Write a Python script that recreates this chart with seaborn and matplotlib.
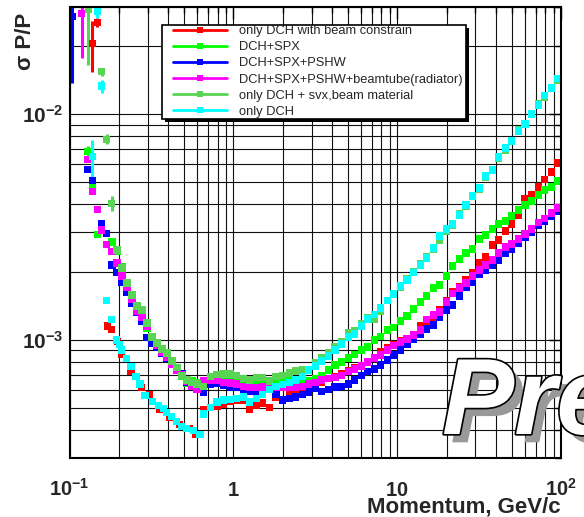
import numpy as np
import pandas as pd
import seaborn as sns
import matplotlib
matplotlib.use("Agg")
import matplotlib.pyplot as plt
from matplotlib.ticker import FixedLocator, FixedFormatter, LogLocator, NullFormatter
from matplotlib.lines import Line2D
from matplotlib.patches import Rectangle
import matplotlib.patheffects as pe

sns.set_theme(style="white")
plt.rcParams['font.family'] = ['Liberation Sans', 'DejaVu Sans']
plt.rcParams['mathtext.fontset'] = 'custom'
plt.rcParams['mathtext.rm'] = 'Liberation Sans'
plt.rcParams['mathtext.bf'] = 'Liberation Sans:bold'
plt.rcParams['mathtext.it'] = 'Liberation Sans:italic'

# ---------------------------------------------------------------- data
labels = ["only DCH with beam constrain", "DCH+SPX", "DCH+SPX+PSHW",
          "DCH+SPX+PSHW+beamtube(radiator)", "only DCH + svx,beam material",
          "only DCH"]
colors = ["#ff0000", "#00ff00", "#0000ff", "#ff00ff", "#59d454", "#00ffff"]

x_tick_values = [0.1, 1, 10, 100]
x_tick_labels = [r"$\mathbf{10^{-1}}$", r"$\mathbf{1}$", r"$\mathbf{10}$", r"$\mathbf{10^{2}}$"]
y_tick_values = [1e-3, 1e-2]
y_tick_labels = [r"$\mathbf{10^{-3}}$", r"$\mathbf{10^{-2}}$"]

# common momentum points above 0.65 GeV/c
p_grid = [0.661, 0.724, 0.794, 0.871, 0.955, 1.047, 1.148, 1.259, 1.380, 1.514,
          1.660, 1.820, 1.995, 2.188, 2.399, 2.630, 2.884, 3.162, 3.467, 3.802,
          4.169, 4.571, 5.012, 5.495, 6.026, 6.607, 7.244, 7.943, 8.710, 9.550,
          10.47, 11.48, 12.59, 13.80, 15.14, 16.60, 18.20, 19.95, 21.88, 23.99,
          26.30, 28.84, 31.62, 34.67, 38.02, 41.69, 45.71, 50.12, 54.95, 60.26,
          66.07, 72.44, 79.43, 87.10, 95.50]

# only DCH with beam constrain
red_p_low = [0.1377, 0.148, 0.1699, 0.1807, 0.1955, 0.2081, 0.2370, 0.2755, 0.3094,
             0.356, 0.4095, 0.4712, 0.5421, 0.591]
red_s_low = [0.0206, 0.0255, 0.001153, 0.001118, 0.000983, 0.000867, 0.000724, 0.000617,
             0.000573, 0.000490, 0.000455, 0.000421, 0.000406, 0.000383]
red_err_low = [0.0052, 0.0012, 0, 0, 0, 0, 0, 0, 0, 0, 0, 0, 0, 0]
red_s = [0.000490, 0.000500, 0.000510, 0.000518, 0.000533, 0.000542, 0.000537, 0.000490, 0.000511, 0.000526,
         0.000500, 0.000559, 0.000542, 0.000576, 0.000594, 0.000607, 0.000619, 0.000632, 0.000651, 0.000672,
         0.000686, 0.000707, 0.000729, 0.000752, 0.000767, 0.000799, 0.000832, 0.000885, 0.000922, 0.000950,
         0.000990, 0.001000, 0.001045, 0.001153, 0.001165, 0.001252, 0.001358, 0.001503, 0.001632, 0.001717,
         0.001844, 0.001980, 0.002194, 0.002331, 0.002636, 0.002773, 0.003041, 0.003266, 0.003579, 0.004215,
         0.004389, 0.004763, 0.005165, 0.005550, 0.006083]

# DCH+SPX
green_p_low = [0.129, 0.1377, 0.1476, 0.1815, 0.1948, 0.2089, 0.2241, 0.2404, 0.2579, 0.2767,
               0.2969, 0.3184, 0.3416, 0.3665, 0.3932, 0.4218, 0.4525, 0.4855, 0.5209, 0.5588, 0.5995]
green_s_low = [0.00683, 0.00487, 0.00292, 0.002717, 0.002455, 0.002106, 0.001632, 0.001503, 0.001358,
               0.001252, 0.001130, 0.001021, 0.000950, 0.000903, 0.000849, 0.000799, 0.000744,
               0.000686, 0.000645, 0.000658, 0.000645]
green_err_low = [0.0004] + [0] * 20
green_s = [0.000632, 0.000665, 0.000672, 0.000686, 0.000686, 0.000665, 0.000651, 0.000645, 0.000638, 0.000638,
           0.000645, 0.000651, 0.000651, 0.000658, 0.000658, 0.000658, 0.000658, 0.000672, 0.000693, 0.000736,
           0.000775, 0.000799, 0.000832, 0.000861, 0.000903, 0.000931, 0.001000, 0.001034, 0.001107, 0.001141,
           0.001214, 0.001277, 0.001372, 0.001473, 0.001566, 0.001700, 0.001752, 0.001921, 0.002127, 0.002284,
           0.002428, 0.002531, 0.002802, 0.002919, 0.003103, 0.003266, 0.003366, 0.003542, 0.003767, 0.003963,
           0.004128, 0.004389, 0.004620, 0.004763, 0.005063]

# DCH+SPX+PSHW
blue_p_low = [0.1038, 0.129, 0.1377, 0.157, 0.1684, 0.1815, 0.1948, 0.2089, 0.2241, 0.2404,
              0.2579, 0.2767, 0.2969, 0.3184, 0.3416, 0.3665, 0.3932, 0.4218, 0.4525, 0.4855,
              0.5209, 0.5588, 0.5995]
blue_s_low = [0.0272, 0.00571, 0.00511, 0.00327, 0.00297, 0.002149, 0.002000, 0.001807, 0.001632,
              0.001458, 0.001331, 0.001202, 0.001021, 0.000970, 0.000922, 0.000876, 0.000832,
              0.000791, 0.000752, 0.000707, 0.000651, 0.000625, 0.000601]
blue_err_low = [0.0135] + [0] * 22
blue_s = [0.000588, 0.000638, 0.000645, 0.000632, 0.000619, 0.000613, 0.000601, 0.000594, 0.000588, 0.000601,
          0.000607, 0.000571, 0.000542, 0.000553, 0.000559, 0.000571, 0.000588, 0.000607, 0.000594, 0.000601,
          0.000619, 0.000625, 0.000638, 0.000665, 0.000693, 0.000722, 0.000744, 0.000775, 0.000815, 0.000858,
          0.000903, 0.000960, 0.001010, 0.001063, 0.001119, 0.001165, 0.001252, 0.001358, 0.001429, 0.001566,
          0.001717, 0.001807, 0.001960, 0.002042, 0.002149, 0.002262, 0.002428, 0.002531, 0.002690, 0.002860,
          0.003010, 0.003233, 0.003366, 0.003542, 0.003729]

# DCH+SPX+PSHW+beamtube(radiator)
magenta_p_low = [0.1186, 0.129, 0.1377, 0.1476, 0.157, 0.1684, 0.1815, 0.1948, 0.2089, 0.2241,
                 0.2404, 0.2579, 0.2767, 0.2969, 0.3184, 0.3416, 0.3665, 0.3932, 0.4218, 0.4525,
                 0.4855, 0.5209, 0.5588, 0.5995]
magenta_s_low = [0.0280, 0.00632, 0.00457, 0.00380, 0.00307, 0.00264, 0.002455, 0.002194, 0.001921,
                 0.001717, 0.001519, 0.001344, 0.001252, 0.001153, 0.001041, 0.000941, 0.000885,
                 0.000841, 0.000783, 0.000736, 0.000700, 0.000658, 0.000625, 0.000601]
magenta_err_low = [0.0103] + [0] * 23
magenta_s = [0.000658, 0.000665, 0.000665, 0.000651, 0.000645, 0.000638, 0.000625, 0.000619, 0.000613, 0.000619,
             0.000625, 0.000619, 0.000613, 0.000613, 0.000619, 0.000625, 0.000638, 0.000651, 0.000665, 0.000672,
             0.000679, 0.000693, 0.000722, 0.000744, 0.000767, 0.000799, 0.000832, 0.000858, 0.000903, 0.000941,
             0.000980, 0.001010, 0.001052, 0.001107, 0.001230, 0.001290, 0.001331, 0.001473, 0.001614, 0.001700,
             0.001788, 0.001921, 0.002042, 0.002149, 0.002262, 0.002428, 0.002583, 0.002663, 0.002802, 0.002949,
             0.003103, 0.003314, 0.003452, 0.003653, 0.003844]

# only DCH + svx,beam material
lgreen_p_low = [0.130, 0.157, 0.1684, 0.1807, 0.1948, 0.2089, 0.2241, 0.2404, 0.2579, 0.2767,
                0.2969, 0.3184, 0.3416, 0.3665, 0.3932, 0.4218, 0.4525, 0.4855, 0.5209, 0.5588, 0.5995]
lgreen_s_low = [0.0292, 0.01545, 0.00775, 0.00404, 0.002505, 0.002084, 0.001788, 0.001583, 0.001414,
                0.001358, 0.001189, 0.001031, 0.000970, 0.000912, 0.000876, 0.000807, 0.000752,
                0.000693, 0.000665, 0.000651, 0.000638]
lgreen_err_low = [0.0127, 0.0006, 0.0004, 0.0003] + [0] * 17
lgreen_s = [0.000625, 0.000686, 0.000700, 0.000707, 0.000707, 0.000693, 0.000672, 0.000665, 0.000679, 0.000679,
            0.000658, 0.000686, 0.000693, 0.000714, 0.000729, 0.000736, 0.000736, 0.000791, 0.000832, 0.000876,
            0.000931, 0.000980, 0.001074, 0.001096, 0.001177, 0.001252, 0.001239, 0.001344, 0.001503, 0.001614,
            0.001717, 0.001863, 0.002020, 0.002171, 0.002331, 0.002531, 0.002773, 0.003041, 0.003233, 0.003615,
            0.003924, 0.004345, 0.004668, 0.005275, 0.005665, 0.006404, 0.006948, 0.007615, 0.008521, 0.009057,
            0.01003, 0.01111, 0.01193, 0.01308, 0.01419]

# only DCH
cyan_p_low = [0.1377, 0.148, 0.157, 0.1684, 0.1807, 0.1940, 0.2010, 0.2081, 0.2232, 0.2370,
              0.2543, 0.2690, 0.2885, 0.3215, 0.3478, 0.3733, 0.3916, 0.4201, 0.4505, 0.4835,
              0.5187, 0.5690, 0.6252]
cyan_s_low = [0.00649, 0.0285, 0.01335, 0.00149, 0.001236, 0.00100, 0.000957, 0.000903, 0.000830,
              0.000760, 0.000687, 0.000638, 0.000570, 0.000533, 0.000511, 0.000498, 0.000475,
              0.000457, 0.000434, 0.000413, 0.000406, 0.000399, 0.000383]
cyan_err_low = [0.0012, 0.0017, 0.0009] + [0] * 20
cyan_s = [0.000470, 0.000500, 0.000531, 0.000542, 0.000545, 0.000553, 0.000559, 0.000531, 0.000553, 0.000576,
          0.000601, 0.000625, 0.000635, 0.000651, 0.000665, 0.000686, 0.000736, 0.000767, 0.000807, 0.000849,
          0.000903, 0.000960, 0.001031, 0.001063, 0.001153, 0.001239, 0.001303, 0.001386, 0.001503, 0.001598,
          0.001735, 0.001844, 0.002000, 0.002149, 0.002308, 0.002557, 0.002889, 0.003103, 0.003266, 0.003579,
          0.003963, 0.004345, 0.004716, 0.005329, 0.005665, 0.006468, 0.007091, 0.007615, 0.008434, 0.009057,
          0.01003, 0.01099, 0.01206, 0.01308, 0.01434]

series_low = [
    (red_p_low, red_s_low, red_err_low, red_s),
    (green_p_low, green_s_low, green_err_low, green_s),
    (blue_p_low, blue_s_low, blue_err_low, blue_s),
    (magenta_p_low, magenta_s_low, magenta_err_low, magenta_s),
    (lgreen_p_low, lgreen_s_low, lgreen_err_low, lgreen_s),
    (cyan_p_low, cyan_s_low, cyan_err_low, cyan_s),
]

frames = []
for lab, (pl, sl, el, sg) in zip(labels, series_low):
    frames.append(pd.DataFrame({
        "p": list(pl) + list(p_grid),
        "sigma": list(sl) + list(sg),
        "err": list(el) + [0.0] * len(p_grid),
        "setup": lab,
    }))
df = pd.concat(frames, ignore_index=True)

# ---------------------------------------------------------------- figure
W, H = 584, 517
fig = plt.figure(figsize=(W / 100, H / 100), dpi=100)
fig.patch.set_facecolor("white")
ax = fig.add_axes([69.6 / W, 1 - 458 / H, (561 - 69.6) / W, (458 - 6.6) / H])
ax.set_facecolor("white")

ax.set_xscale("log")
ax.set_yscale("log")
ax.set_xlim(0.1, 100)
ax.set_ylim(3e-4, 3e-2)

# error bars of the low-statistics points
for lab, col in zip(labels, colors):
    sub = df[(df["setup"] == lab) & (df["err"] > 0)]
    if len(sub):
        ax.errorbar(sub["p"], sub["sigma"], yerr=sub["err"], fmt="none",
                    ecolor=col, elinewidth=2.2, capsize=0, zorder=2.5)

sns.scatterplot(data=df, x="p", y="sigma", hue="setup", hue_order=labels,
                palette=colors, marker="s", s=26, linewidth=0, legend=False,
                ax=ax, zorder=3)

ax.set_xlim(0.1, 100)
ax.set_ylim(3e-4, 3e-2)

# ticks and grid
ax.xaxis.set_major_locator(FixedLocator(x_tick_values))
ax.xaxis.set_major_formatter(FixedFormatter(x_tick_labels))
ax.xaxis.set_minor_locator(LogLocator(base=10, subs=np.arange(2, 10), numticks=20))
ax.xaxis.set_minor_formatter(NullFormatter())
ax.yaxis.set_major_locator(FixedLocator(y_tick_values))
ax.yaxis.set_major_formatter(FixedFormatter(y_tick_labels))
ax.yaxis.set_minor_locator(LogLocator(base=10, subs=np.arange(2, 10), numticks=20))
ax.yaxis.set_minor_formatter(NullFormatter())

ax.tick_params(which="both", direction="in", top=True, right=True, color="black", width=1.0)
ax.tick_params(which="major", length=8.6)
ax.tick_params(which="minor", length=4.3)
ax.tick_params(axis="x", which="major", pad=27.5, labelsize=14.5)
ax.tick_params(axis="y", which="major", pad=4.5, labelsize=15)
for t in ax.get_xticklabels():
    t.set_va("baseline")

ax.set_axisbelow(True)
ax.grid(True, which="both", color="#111111", linewidth=0.8)
for sp in ax.spines.values():
    sp.set_color("black")
    sp.set_linewidth(1.5)
    sp.set_zorder(4)

ax.set_xlabel("Momentum, GeV/c", fontsize=16, fontweight="bold", loc="right")
ax.xaxis.set_label_coords(1.0, -(512 - 458) / (458 - 6.6))
ax.xaxis.label.set_va("baseline")
ax.set_ylabel("σ P/P", fontsize=16, fontweight="bold", loc="top")
ax.yaxis.set_label_coords((26 - 69.6) / (561 - 69.6), 1 - (13 - 6.6) / (458 - 6.6))
ax.yaxis.label.set_va("center")

# legend box with a solid drop shadow
bx0, by0, bx1, by1 = 162, 25, 466, 119
fig.patches.append(Rectangle(((bx0 + 3) / W, 1 - (by1 + 3) / H), (bx1 - bx0) / W, (by1 - by0) / H,
                             transform=fig.transFigure, facecolor="black", edgecolor="black",
                             linewidth=0, zorder=3.8))
fig.patches.append(Rectangle((bx0 / W, 1 - by1 / H), (bx1 - bx0) / W, (by1 - by0) / H,
                             transform=fig.transFigure, facecolor="white", edgecolor="black",
                             linewidth=1.2, zorder=3.9))
handles = [Line2D([], [], color=c, lw=2, marker="s", markersize=5, markeredgewidth=0) for c in colors]
fig.legend(handles, labels, loc="upper left", bbox_to_anchor=(173 / W, 1 - 25.0 / H),
           frameon=False, borderpad=0, borderaxespad=0, handlelength=4.2, handletextpad=0.9,
           labelspacing=0.32, fontsize=9.3)

# "Preliminary" stamp
fig.text(442 / W, 1 - 434 / H, "Preliminary", fontsize=78, fontweight="bold", fontstyle="italic",
         color="white", ha="left", va="baseline", zorder=6,
         path_effects=[pe.SimplePatchShadow(offset=(6, -6), shadow_rgbFace="#999999", alpha=1.0),
                       pe.Stroke(linewidth=2.4, foreground="black"), pe.Normal()])

fig.savefig("out.png", dpi=100)
